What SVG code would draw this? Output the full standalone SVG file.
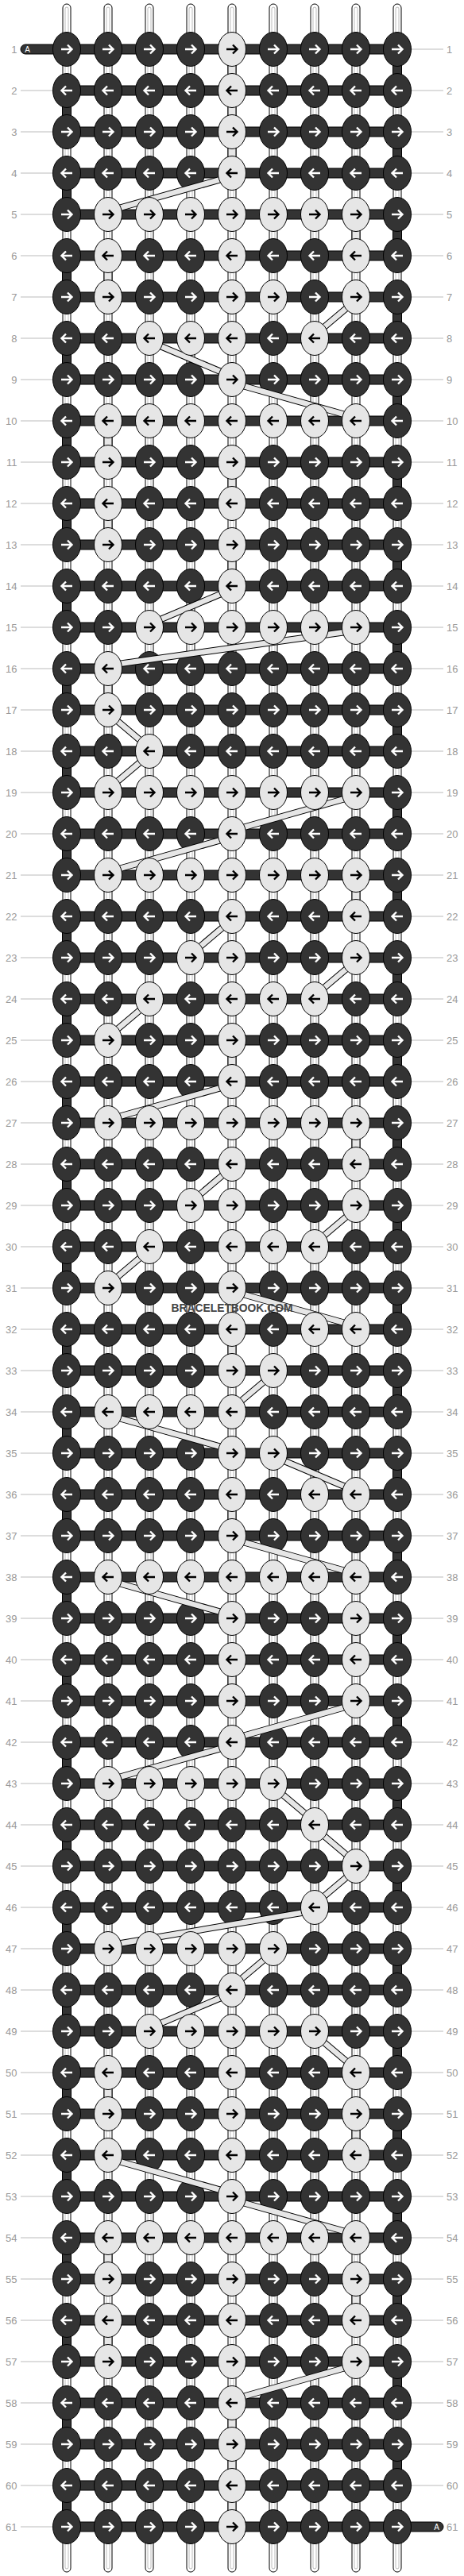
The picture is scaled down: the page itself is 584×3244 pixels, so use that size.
<svg xmlns="http://www.w3.org/2000/svg" width="584" height="3244" viewBox="0 0 584 3244">
<style>
.lbl{font-family:"Liberation Sans",Arial,sans-serif;font-size:13px;fill:#999}
.le{text-anchor:end}
.ln{stroke:#bbb;stroke-width:1;fill:none}
.tube{fill:#fff;stroke:#000;stroke-width:1}
.tin{fill:none;stroke:#aaa;stroke-width:0.8}
.d{fill:#333;stroke:#000;stroke-width:1}
.l{fill:#e6e6e6;stroke:#000;stroke-width:1}
.bo{stroke:#000;stroke-width:8.5;fill:none}
.bi{stroke:#e6e6e6;stroke-width:6.5;fill:none}
.aw{fill:none;stroke:#fff;stroke-width:2.4}
.ab{fill:none;stroke:#000;stroke-width:2.4}
.tag{font-family:"Liberation Sans",Arial,sans-serif;font-size:10px;fill:#fff;text-anchor:middle}
.wm{font-family:"Liberation Sans",Arial,sans-serif;font-weight:bold;font-size:15px;fill:#444;text-anchor:middle}
</style>
<defs>
<g id="dr"><ellipse rx="17.5" ry="21.5" class="d"/><path d="M-7,0H6M1,-5.5L6.5,0L1,5.5" class="aw"/></g>
<g id="dl"><ellipse rx="17.5" ry="21.5" class="d"/><path d="M7,0H-6M-1,-5.5L-6.5,0L-1,5.5" class="aw"/></g>
<g id="lr"><ellipse rx="17.5" ry="21.5" class="l"/><path d="M-7,0H6M1,-5.5L6.5,0L1,5.5" class="ab"/></g>
<g id="ll"><ellipse rx="17.5" ry="21.5" class="l"/><path d="M7,0H-6M-1,-5.5L-6.5,0L-1,5.5" class="ab"/></g>
<rect id="sd" x="-5.5" y="0" width="11" height="52" class="d"/>
<rect id="sl" x="-5" y="0" width="10" height="52" class="l"/>
</defs>
<rect width="584" height="3244" fill="#fff"/>
<g id="labels">
<path class="ln" d="M26,62h40M26,114h40M26,166h40M26,218h40M26,270h40M26,322h40M26,374h40M26,426h40M26,478h40M26,530h40M26,582h40M26,634h40M26,686h40M26,738h40M26,790h40M26,842h40M26,894h40M26,946h40M26,998h40M26,1050h40M26,1102h40M26,1154h40M26,1206h40M26,1258h40M26,1310h40M26,1362h40M26,1414h40M26,1466h40M26,1518h40M26,1570h40M26,1622h40M26,1674h40M26,1726h40M26,1778h40M26,1830h40M26,1882h40M26,1934h40M26,1986h40M26,2038h40M26,2090h40M26,2142h40M26,2194h40M26,2246h40M26,2298h40M26,2350h40M26,2402h40M26,2454h40M26,2506h40M26,2558h40M26,2610h40M26,2662h40M26,2714h40M26,2766h40M26,2818h40M26,2870h40M26,2922h40M26,2974h40M26,3026h40M26,3078h40M26,3130h40M26,3182h40"/>
<path class="ln" d="M518,62h40M518,114h40M518,166h40M518,218h40M518,270h40M518,322h40M518,374h40M518,426h40M518,478h40M518,530h40M518,582h40M518,634h40M518,686h40M518,738h40M518,790h40M518,842h40M518,894h40M518,946h40M518,998h40M518,1050h40M518,1102h40M518,1154h40M518,1206h40M518,1258h40M518,1310h40M518,1362h40M518,1414h40M518,1466h40M518,1518h40M518,1570h40M518,1622h40M518,1674h40M518,1726h40M518,1778h40M518,1830h40M518,1882h40M518,1934h40M518,1986h40M518,2038h40M518,2090h40M518,2142h40M518,2194h40M518,2246h40M518,2298h40M518,2350h40M518,2402h40M518,2454h40M518,2506h40M518,2558h40M518,2610h40M518,2662h40M518,2714h40M518,2766h40M518,2818h40M518,2870h40M518,2922h40M518,2974h40M518,3026h40M518,3078h40M518,3130h40"/>
<g class="lbl le">
<text x="21.5" y="67">1</text><text x="21.5" y="119">2</text><text x="21.5" y="171">3</text><text x="21.5" y="223">4</text><text x="21.5" y="275">5</text><text x="21.5" y="327">6</text><text x="21.5" y="379">7</text><text x="21.5" y="431">8</text><text x="21.5" y="483">9</text><text x="21.5" y="535">10</text><text x="21.5" y="587">11</text><text x="21.5" y="639">12</text><text x="21.5" y="691">13</text><text x="21.5" y="743">14</text><text x="21.5" y="795">15</text><text x="21.5" y="847">16</text><text x="21.5" y="899">17</text><text x="21.5" y="951">18</text><text x="21.5" y="1003">19</text><text x="21.5" y="1055">20</text><text x="21.5" y="1107">21</text><text x="21.5" y="1159">22</text><text x="21.5" y="1211">23</text><text x="21.5" y="1263">24</text><text x="21.5" y="1315">25</text><text x="21.5" y="1367">26</text><text x="21.5" y="1419">27</text><text x="21.5" y="1471">28</text><text x="21.5" y="1523">29</text><text x="21.5" y="1575">30</text><text x="21.5" y="1627">31</text><text x="21.5" y="1679">32</text><text x="21.5" y="1731">33</text><text x="21.5" y="1783">34</text><text x="21.5" y="1835">35</text><text x="21.5" y="1887">36</text><text x="21.5" y="1939">37</text><text x="21.5" y="1991">38</text><text x="21.5" y="2043">39</text><text x="21.5" y="2095">40</text><text x="21.5" y="2147">41</text><text x="21.5" y="2199">42</text><text x="21.5" y="2251">43</text><text x="21.5" y="2303">44</text><text x="21.5" y="2355">45</text><text x="21.5" y="2407">46</text><text x="21.5" y="2459">47</text><text x="21.5" y="2511">48</text><text x="21.5" y="2563">49</text><text x="21.5" y="2615">50</text><text x="21.5" y="2667">51</text><text x="21.5" y="2719">52</text><text x="21.5" y="2771">53</text><text x="21.5" y="2823">54</text><text x="21.5" y="2875">55</text><text x="21.5" y="2927">56</text><text x="21.5" y="2979">57</text><text x="21.5" y="3031">58</text><text x="21.5" y="3083">59</text><text x="21.5" y="3135">60</text><text x="21.5" y="3187">61</text>
</g>
<g class="lbl">
<text x="562" y="67">1</text><text x="562" y="119">2</text><text x="562" y="171">3</text><text x="562" y="223">4</text><text x="562" y="275">5</text><text x="562" y="327">6</text><text x="562" y="379">7</text><text x="562" y="431">8</text><text x="562" y="483">9</text><text x="562" y="535">10</text><text x="562" y="587">11</text><text x="562" y="639">12</text><text x="562" y="691">13</text><text x="562" y="743">14</text><text x="562" y="795">15</text><text x="562" y="847">16</text><text x="562" y="899">17</text><text x="562" y="951">18</text><text x="562" y="1003">19</text><text x="562" y="1055">20</text><text x="562" y="1107">21</text><text x="562" y="1159">22</text><text x="562" y="1211">23</text><text x="562" y="1263">24</text><text x="562" y="1315">25</text><text x="562" y="1367">26</text><text x="562" y="1419">27</text><text x="562" y="1471">28</text><text x="562" y="1523">29</text><text x="562" y="1575">30</text><text x="562" y="1627">31</text><text x="562" y="1679">32</text><text x="562" y="1731">33</text><text x="562" y="1783">34</text><text x="562" y="1835">35</text><text x="562" y="1887">36</text><text x="562" y="1939">37</text><text x="562" y="1991">38</text><text x="562" y="2043">39</text><text x="562" y="2095">40</text><text x="562" y="2147">41</text><text x="562" y="2199">42</text><text x="562" y="2251">43</text><text x="562" y="2303">44</text><text x="562" y="2355">45</text><text x="562" y="2407">46</text><text x="562" y="2459">47</text><text x="562" y="2511">48</text><text x="562" y="2563">49</text><text x="562" y="2615">50</text><text x="562" y="2667">51</text><text x="562" y="2719">52</text><text x="562" y="2771">53</text><text x="562" y="2823">54</text><text x="562" y="2875">55</text><text x="562" y="2927">56</text><text x="562" y="2979">57</text><text x="562" y="3031">58</text><text x="562" y="3083">59</text><text x="562" y="3135">60</text><text x="562" y="3187">61</text>
</g>
</g>
<g id="strings">
<rect x="79" y="5" width="10" height="3234" rx="5" class="tube"/><rect x="82" y="9" width="4" height="3226" rx="2" class="tin"/>
<rect x="131" y="5" width="10" height="3234" rx="5" class="tube"/><rect x="134" y="9" width="4" height="3226" rx="2" class="tin"/>
<rect x="183" y="5" width="10" height="3234" rx="5" class="tube"/><rect x="186" y="9" width="4" height="3226" rx="2" class="tin"/>
<rect x="235" y="5" width="10" height="3234" rx="5" class="tube"/><rect x="238" y="9" width="4" height="3226" rx="2" class="tin"/>
<rect x="287" y="5" width="10" height="3234" rx="5" class="tube"/><rect x="290" y="9" width="4" height="3226" rx="2" class="tin"/>
<rect x="339" y="5" width="10" height="3234" rx="5" class="tube"/><rect x="342" y="9" width="4" height="3226" rx="2" class="tin"/>
<rect x="391" y="5" width="10" height="3234" rx="5" class="tube"/><rect x="394" y="9" width="4" height="3226" rx="2" class="tin"/>
<rect x="443" y="5" width="10" height="3234" rx="5" class="tube"/><rect x="446" y="9" width="4" height="3226" rx="2" class="tin"/>
<rect x="495" y="5" width="10" height="3234" rx="5" class="tube"/><rect x="498" y="9" width="4" height="3226" rx="2" class="tin"/>
</g>
<g id="connectors">
<use href="#sd" x="500" y="62"/><use href="#sd" x="500" y="166"/><use href="#sd" x="500" y="270"/><use href="#sd" x="500" y="374"/><use href="#sd" x="500" y="478"/><use href="#sd" x="500" y="582"/><use href="#sd" x="500" y="686"/><use href="#sd" x="500" y="790"/><use href="#sd" x="500" y="894"/><use href="#sd" x="500" y="998"/><use href="#sd" x="500" y="1102"/><use href="#sd" x="500" y="1206"/><use href="#sd" x="500" y="1310"/><use href="#sd" x="500" y="1414"/><use href="#sd" x="500" y="1518"/><use href="#sd" x="500" y="1622"/><use href="#sd" x="500" y="1726"/><use href="#sd" x="500" y="1830"/><use href="#sd" x="500" y="1934"/><use href="#sd" x="500" y="2038"/><use href="#sd" x="500" y="2142"/><use href="#sd" x="500" y="2246"/><use href="#sd" x="500" y="2350"/><use href="#sd" x="500" y="2454"/><use href="#sd" x="500" y="2558"/><use href="#sd" x="500" y="2662"/><use href="#sd" x="500" y="2766"/><use href="#sd" x="500" y="2870"/><use href="#sd" x="500" y="2974"/><use href="#sd" x="500" y="3078"/>
<use href="#sd" x="84" y="114"/><use href="#sd" x="84" y="218"/><use href="#sd" x="84" y="322"/><use href="#sd" x="84" y="426"/><use href="#sd" x="84" y="530"/><use href="#sd" x="84" y="634"/><use href="#sd" x="84" y="738"/><use href="#sd" x="84" y="842"/><use href="#sd" x="84" y="946"/><use href="#sd" x="84" y="1050"/><use href="#sd" x="84" y="1154"/><use href="#sd" x="84" y="1258"/><use href="#sd" x="84" y="1362"/><use href="#sd" x="84" y="1466"/><use href="#sd" x="84" y="1570"/><use href="#sd" x="84" y="1674"/><use href="#sd" x="84" y="1778"/><use href="#sd" x="84" y="1882"/><use href="#sd" x="84" y="1986"/><use href="#sd" x="84" y="2090"/><use href="#sd" x="84" y="2194"/><use href="#sd" x="84" y="2298"/><use href="#sd" x="84" y="2402"/><use href="#sd" x="84" y="2506"/><use href="#sd" x="84" y="2610"/><use href="#sd" x="84" y="2714"/><use href="#sd" x="84" y="2818"/><use href="#sd" x="84" y="2922"/><use href="#sd" x="84" y="3026"/><use href="#sd" x="84" y="3130"/>
<use href="#sl" x="292" y="62"/><use href="#sl" x="292" y="114"/><use href="#sl" x="292" y="166"/><use href="#sl" x="448" y="270"/><use href="#sl" x="136" y="322"/><use href="#sl" x="136" y="530"/><use href="#sl" x="292" y="582"/><use href="#sl" x="136" y="634"/><use href="#sl" x="292" y="686"/><use href="#sl" x="136" y="842"/><use href="#sl" x="448" y="1102"/><use href="#sl" x="292" y="1310"/><use href="#sl" x="448" y="1414"/><use href="#sl" x="292" y="1674"/><use href="#sl" x="292" y="1882"/><use href="#sl" x="448" y="2038"/><use href="#sl" x="292" y="2090"/><use href="#sl" x="136" y="2610"/><use href="#sl" x="448" y="2662"/><use href="#sl" x="136" y="2818"/><use href="#sl" x="448" y="2870"/><use href="#sl" x="136" y="2922"/><use href="#sl" x="292" y="3026"/><use href="#sl" x="292" y="3078"/><use href="#sl" x="292" y="3130"/>
</g>
<g id="rows" class="d">
<rect x="26" y="56" width="70" height="12" rx="6"/><rect x="488" y="3176" width="70" height="12" rx="6"/>
<rect x="84" y="56" width="416" height="12"/><rect x="84" y="108" width="416" height="12"/><rect x="84" y="160" width="416" height="12"/><rect x="84" y="212" width="416" height="12"/><rect x="84" y="264" width="416" height="12"/><rect x="84" y="316" width="416" height="12"/><rect x="84" y="368" width="416" height="12"/><rect x="84" y="420" width="416" height="12"/><rect x="84" y="472" width="416" height="12"/><rect x="84" y="524" width="416" height="12"/><rect x="84" y="576" width="416" height="12"/><rect x="84" y="628" width="416" height="12"/><rect x="84" y="680" width="416" height="12"/><rect x="84" y="732" width="416" height="12"/><rect x="84" y="784" width="416" height="12"/><rect x="84" y="836" width="416" height="12"/><rect x="84" y="888" width="416" height="12"/><rect x="84" y="940" width="416" height="12"/><rect x="84" y="992" width="416" height="12"/><rect x="84" y="1044" width="416" height="12"/><rect x="84" y="1096" width="416" height="12"/><rect x="84" y="1148" width="416" height="12"/><rect x="84" y="1200" width="416" height="12"/><rect x="84" y="1252" width="416" height="12"/><rect x="84" y="1304" width="416" height="12"/><rect x="84" y="1356" width="416" height="12"/><rect x="84" y="1408" width="416" height="12"/><rect x="84" y="1460" width="416" height="12"/><rect x="84" y="1512" width="416" height="12"/><rect x="84" y="1564" width="416" height="12"/><rect x="84" y="1616" width="416" height="12"/><rect x="84" y="1668" width="416" height="12"/><rect x="84" y="1720" width="416" height="12"/><rect x="84" y="1772" width="416" height="12"/><rect x="84" y="1824" width="416" height="12"/><rect x="84" y="1876" width="416" height="12"/><rect x="84" y="1928" width="416" height="12"/><rect x="84" y="1980" width="416" height="12"/><rect x="84" y="2032" width="416" height="12"/><rect x="84" y="2084" width="416" height="12"/><rect x="84" y="2136" width="416" height="12"/><rect x="84" y="2188" width="416" height="12"/><rect x="84" y="2240" width="416" height="12"/><rect x="84" y="2292" width="416" height="12"/><rect x="84" y="2344" width="416" height="12"/><rect x="84" y="2396" width="416" height="12"/><rect x="84" y="2448" width="416" height="12"/><rect x="84" y="2500" width="416" height="12"/><rect x="84" y="2552" width="416" height="12"/><rect x="84" y="2604" width="416" height="12"/><rect x="84" y="2656" width="416" height="12"/><rect x="84" y="2708" width="416" height="12"/><rect x="84" y="2760" width="416" height="12"/><rect x="84" y="2812" width="416" height="12"/><rect x="84" y="2864" width="416" height="12"/><rect x="84" y="2916" width="416" height="12"/><rect x="84" y="2968" width="416" height="12"/><rect x="84" y="3020" width="416" height="12"/><rect x="84" y="3072" width="416" height="12"/><rect x="84" y="3124" width="416" height="12"/><rect x="84" y="3176" width="416" height="12"/>
</g>
<text class="tag" x="34.5" y="65.5">A</text><text class="tag" x="549.5" y="3185.5">A</text>
<g id="knots-dark">
<g transform="translate(0,62)"><g id="k1-1"><use href="#dr" x="84"/></g><g id="k1-2"><use href="#dr" x="136"/></g><g id="k1-3"><use href="#dr" x="188"/></g><g id="k1-4"><use href="#dr" x="240"/></g><g id="k1-6"><use href="#dr" x="344"/></g><g id="k1-7"><use href="#dr" x="396"/></g><g id="k1-8"><use href="#dr" x="448"/></g><g id="k1-9"><use href="#dr" x="500"/></g></g>
<g transform="translate(0,114)"><g id="k2-1"><use href="#dl" x="84"/></g><g id="k2-2"><use href="#dl" x="136"/></g><g id="k2-3"><use href="#dl" x="188"/></g><g id="k2-4"><use href="#dl" x="240"/></g><g id="k2-6"><use href="#dl" x="344"/></g><g id="k2-7"><use href="#dl" x="396"/></g><g id="k2-8"><use href="#dl" x="448"/></g><g id="k2-9"><use href="#dl" x="500"/></g></g>
<g transform="translate(0,166)"><g id="k3-1"><use href="#dr" x="84"/></g><g id="k3-2"><use href="#dr" x="136"/></g><g id="k3-3"><use href="#dr" x="188"/></g><g id="k3-4"><use href="#dr" x="240"/></g><g id="k3-6"><use href="#dr" x="344"/></g><g id="k3-7"><use href="#dr" x="396"/></g><g id="k3-8"><use href="#dr" x="448"/></g><g id="k3-9"><use href="#dr" x="500"/></g></g>
<g transform="translate(0,218)"><g id="k4-1"><use href="#dl" x="84"/></g><g id="k4-2"><use href="#dl" x="136"/></g><g id="k4-3"><use href="#dl" x="188"/></g><g id="k4-4"><use href="#dl" x="240"/></g><g id="k4-6"><use href="#dl" x="344"/></g><g id="k4-7"><use href="#dl" x="396"/></g><g id="k4-8"><use href="#dl" x="448"/></g><g id="k4-9"><use href="#dl" x="500"/></g></g>
<g transform="translate(0,270)"><g id="k5-1"><use href="#dr" x="84"/></g><g id="k5-9"><use href="#dr" x="500"/></g></g>
<g transform="translate(0,322)"><g id="k6-1"><use href="#dl" x="84"/></g><g id="k6-3"><use href="#dl" x="188"/></g><g id="k6-4"><use href="#dl" x="240"/></g><g id="k6-6"><use href="#dl" x="344"/></g><g id="k6-7"><use href="#dl" x="396"/></g><g id="k6-9"><use href="#dl" x="500"/></g></g>
<g transform="translate(0,374)"><g id="k7-1"><use href="#dr" x="84"/></g><g id="k7-3"><use href="#dr" x="188"/></g><g id="k7-4"><use href="#dr" x="240"/></g><g id="k7-7"><use href="#dr" x="396"/></g><g id="k7-9"><use href="#dr" x="500"/></g></g>
<g transform="translate(0,426)"><g id="k8-1"><use href="#dl" x="84"/></g><g id="k8-2"><use href="#dl" x="136"/></g><g id="k8-6"><use href="#dl" x="344"/></g><g id="k8-8"><use href="#dl" x="448"/></g><g id="k8-9"><use href="#dl" x="500"/></g></g>
<g transform="translate(0,478)"><g id="k9-1"><use href="#dr" x="84"/></g><g id="k9-2"><use href="#dr" x="136"/></g><g id="k9-3"><use href="#dr" x="188"/></g><g id="k9-4"><use href="#dr" x="240"/></g><g id="k9-6"><use href="#dr" x="344"/></g><g id="k9-7"><use href="#dr" x="396"/></g><g id="k9-8"><use href="#dr" x="448"/></g><g id="k9-9"><use href="#dr" x="500"/></g></g>
<g transform="translate(0,530)"><g id="k10-1"><use href="#dl" x="84"/></g><g id="k10-9"><use href="#dl" x="500"/></g></g>
<g transform="translate(0,582)"><g id="k11-1"><use href="#dr" x="84"/></g><g id="k11-3"><use href="#dr" x="188"/></g><g id="k11-4"><use href="#dr" x="240"/></g><g id="k11-6"><use href="#dr" x="344"/></g><g id="k11-7"><use href="#dr" x="396"/></g><g id="k11-8"><use href="#dr" x="448"/></g><g id="k11-9"><use href="#dr" x="500"/></g></g>
<g transform="translate(0,634)"><g id="k12-1"><use href="#dl" x="84"/></g><g id="k12-3"><use href="#dl" x="188"/></g><g id="k12-4"><use href="#dl" x="240"/></g><g id="k12-6"><use href="#dl" x="344"/></g><g id="k12-7"><use href="#dl" x="396"/></g><g id="k12-8"><use href="#dl" x="448"/></g><g id="k12-9"><use href="#dl" x="500"/></g></g>
<g transform="translate(0,686)"><g id="k13-1"><use href="#dr" x="84"/></g><g id="k13-3"><use href="#dr" x="188"/></g><g id="k13-4"><use href="#dr" x="240"/></g><g id="k13-6"><use href="#dr" x="344"/></g><g id="k13-7"><use href="#dr" x="396"/></g><g id="k13-8"><use href="#dr" x="448"/></g><g id="k13-9"><use href="#dr" x="500"/></g></g>
<g transform="translate(0,738)"><g id="k14-1"><use href="#dl" x="84"/></g><g id="k14-2"><use href="#dl" x="136"/></g><g id="k14-3"><use href="#dl" x="188"/></g><g id="k14-4"><use href="#dl" x="240"/></g><g id="k14-6"><use href="#dl" x="344"/></g><g id="k14-7"><use href="#dl" x="396"/></g><g id="k14-8"><use href="#dl" x="448"/></g><g id="k14-9"><use href="#dl" x="500"/></g></g>
<g transform="translate(0,790)"><g id="k15-1"><use href="#dr" x="84"/></g><g id="k15-2"><use href="#dr" x="136"/></g><g id="k15-9"><use href="#dr" x="500"/></g></g>
<g transform="translate(0,842)"><g id="k16-1"><use href="#dl" x="84"/></g><g id="k16-3"><use href="#dl" x="188"/></g><g id="k16-4"><use href="#dl" x="240"/></g><g id="k16-5"><use href="#dl" x="292"/></g><g id="k16-6"><use href="#dl" x="344"/></g><g id="k16-7"><use href="#dl" x="396"/></g><g id="k16-8"><use href="#dl" x="448"/></g><g id="k16-9"><use href="#dl" x="500"/></g></g>
<g transform="translate(0,894)"><g id="k17-1"><use href="#dr" x="84"/></g><g id="k17-3"><use href="#dr" x="188"/></g><g id="k17-4"><use href="#dr" x="240"/></g><g id="k17-5"><use href="#dr" x="292"/></g><g id="k17-6"><use href="#dr" x="344"/></g><g id="k17-7"><use href="#dr" x="396"/></g><g id="k17-8"><use href="#dr" x="448"/></g><g id="k17-9"><use href="#dr" x="500"/></g></g>
<g transform="translate(0,946)"><g id="k18-1"><use href="#dl" x="84"/></g><g id="k18-2"><use href="#dl" x="136"/></g><g id="k18-4"><use href="#dl" x="240"/></g><g id="k18-5"><use href="#dl" x="292"/></g><g id="k18-6"><use href="#dl" x="344"/></g><g id="k18-7"><use href="#dl" x="396"/></g><g id="k18-8"><use href="#dl" x="448"/></g><g id="k18-9"><use href="#dl" x="500"/></g></g>
<g transform="translate(0,998)"><g id="k19-1"><use href="#dr" x="84"/></g><g id="k19-9"><use href="#dr" x="500"/></g></g>
<g transform="translate(0,1050)"><g id="k20-1"><use href="#dl" x="84"/></g><g id="k20-2"><use href="#dl" x="136"/></g><g id="k20-3"><use href="#dl" x="188"/></g><g id="k20-4"><use href="#dl" x="240"/></g><g id="k20-6"><use href="#dl" x="344"/></g><g id="k20-7"><use href="#dl" x="396"/></g><g id="k20-8"><use href="#dl" x="448"/></g><g id="k20-9"><use href="#dl" x="500"/></g></g>
<g transform="translate(0,1102)"><g id="k21-1"><use href="#dr" x="84"/></g><g id="k21-9"><use href="#dr" x="500"/></g></g>
<g transform="translate(0,1154)"><g id="k22-1"><use href="#dl" x="84"/></g><g id="k22-2"><use href="#dl" x="136"/></g><g id="k22-3"><use href="#dl" x="188"/></g><g id="k22-4"><use href="#dl" x="240"/></g><g id="k22-6"><use href="#dl" x="344"/></g><g id="k22-7"><use href="#dl" x="396"/></g><g id="k22-9"><use href="#dl" x="500"/></g></g>
<g transform="translate(0,1206)"><g id="k23-1"><use href="#dr" x="84"/></g><g id="k23-2"><use href="#dr" x="136"/></g><g id="k23-3"><use href="#dr" x="188"/></g><g id="k23-6"><use href="#dr" x="344"/></g><g id="k23-7"><use href="#dr" x="396"/></g><g id="k23-9"><use href="#dr" x="500"/></g></g>
<g transform="translate(0,1258)"><g id="k24-1"><use href="#dl" x="84"/></g><g id="k24-2"><use href="#dl" x="136"/></g><g id="k24-4"><use href="#dl" x="240"/></g><g id="k24-8"><use href="#dl" x="448"/></g><g id="k24-9"><use href="#dl" x="500"/></g></g>
<g transform="translate(0,1310)"><g id="k25-1"><use href="#dr" x="84"/></g><g id="k25-3"><use href="#dr" x="188"/></g><g id="k25-4"><use href="#dr" x="240"/></g><g id="k25-6"><use href="#dr" x="344"/></g><g id="k25-7"><use href="#dr" x="396"/></g><g id="k25-8"><use href="#dr" x="448"/></g><g id="k25-9"><use href="#dr" x="500"/></g></g>
<g transform="translate(0,1362)"><g id="k26-1"><use href="#dl" x="84"/></g><g id="k26-2"><use href="#dl" x="136"/></g><g id="k26-3"><use href="#dl" x="188"/></g><g id="k26-4"><use href="#dl" x="240"/></g><g id="k26-6"><use href="#dl" x="344"/></g><g id="k26-7"><use href="#dl" x="396"/></g><g id="k26-8"><use href="#dl" x="448"/></g><g id="k26-9"><use href="#dl" x="500"/></g></g>
<g transform="translate(0,1414)"><g id="k27-1"><use href="#dr" x="84"/></g><g id="k27-9"><use href="#dr" x="500"/></g></g>
<g transform="translate(0,1466)"><g id="k28-1"><use href="#dl" x="84"/></g><g id="k28-2"><use href="#dl" x="136"/></g><g id="k28-3"><use href="#dl" x="188"/></g><g id="k28-4"><use href="#dl" x="240"/></g><g id="k28-6"><use href="#dl" x="344"/></g><g id="k28-7"><use href="#dl" x="396"/></g><g id="k28-9"><use href="#dl" x="500"/></g></g>
<g transform="translate(0,1518)"><g id="k29-1"><use href="#dr" x="84"/></g><g id="k29-2"><use href="#dr" x="136"/></g><g id="k29-3"><use href="#dr" x="188"/></g><g id="k29-6"><use href="#dr" x="344"/></g><g id="k29-7"><use href="#dr" x="396"/></g><g id="k29-9"><use href="#dr" x="500"/></g></g>
<g transform="translate(0,1570)"><g id="k30-1"><use href="#dl" x="84"/></g><g id="k30-2"><use href="#dl" x="136"/></g><g id="k30-4"><use href="#dl" x="240"/></g><g id="k30-8"><use href="#dl" x="448"/></g><g id="k30-9"><use href="#dl" x="500"/></g></g>
<g transform="translate(0,1622)"><g id="k31-1"><use href="#dr" x="84"/></g><g id="k31-3"><use href="#dr" x="188"/></g><g id="k31-4"><use href="#dr" x="240"/></g><g id="k31-6"><use href="#dr" x="344"/></g><g id="k31-7"><use href="#dr" x="396"/></g><g id="k31-8"><use href="#dr" x="448"/></g><g id="k31-9"><use href="#dr" x="500"/></g></g>
<g transform="translate(0,1674)"><g id="k32-1"><use href="#dl" x="84"/></g><g id="k32-2"><use href="#dl" x="136"/></g><g id="k32-3"><use href="#dl" x="188"/></g><g id="k32-4"><use href="#dl" x="240"/></g><g id="k32-6"><use href="#dl" x="344"/></g><g id="k32-9"><use href="#dl" x="500"/></g></g>
<g transform="translate(0,1726)"><g id="k33-1"><use href="#dr" x="84"/></g><g id="k33-2"><use href="#dr" x="136"/></g><g id="k33-3"><use href="#dr" x="188"/></g><g id="k33-4"><use href="#dr" x="240"/></g><g id="k33-7"><use href="#dr" x="396"/></g><g id="k33-8"><use href="#dr" x="448"/></g><g id="k33-9"><use href="#dr" x="500"/></g></g>
<g transform="translate(0,1778)"><g id="k34-1"><use href="#dl" x="84"/></g><g id="k34-6"><use href="#dl" x="344"/></g><g id="k34-7"><use href="#dl" x="396"/></g><g id="k34-8"><use href="#dl" x="448"/></g><g id="k34-9"><use href="#dl" x="500"/></g></g>
<g transform="translate(0,1830)"><g id="k35-1"><use href="#dr" x="84"/></g><g id="k35-2"><use href="#dr" x="136"/></g><g id="k35-3"><use href="#dr" x="188"/></g><g id="k35-4"><use href="#dr" x="240"/></g><g id="k35-7"><use href="#dr" x="396"/></g><g id="k35-8"><use href="#dr" x="448"/></g><g id="k35-9"><use href="#dr" x="500"/></g></g>
<g transform="translate(0,1882)"><g id="k36-1"><use href="#dl" x="84"/></g><g id="k36-2"><use href="#dl" x="136"/></g><g id="k36-3"><use href="#dl" x="188"/></g><g id="k36-4"><use href="#dl" x="240"/></g><g id="k36-6"><use href="#dl" x="344"/></g><g id="k36-9"><use href="#dl" x="500"/></g></g>
<g transform="translate(0,1934)"><g id="k37-1"><use href="#dr" x="84"/></g><g id="k37-2"><use href="#dr" x="136"/></g><g id="k37-3"><use href="#dr" x="188"/></g><g id="k37-4"><use href="#dr" x="240"/></g><g id="k37-6"><use href="#dr" x="344"/></g><g id="k37-7"><use href="#dr" x="396"/></g><g id="k37-8"><use href="#dr" x="448"/></g><g id="k37-9"><use href="#dr" x="500"/></g></g>
<g transform="translate(0,1986)"><g id="k38-1"><use href="#dl" x="84"/></g><g id="k38-9"><use href="#dl" x="500"/></g></g>
<g transform="translate(0,2038)"><g id="k39-1"><use href="#dr" x="84"/></g><g id="k39-2"><use href="#dr" x="136"/></g><g id="k39-3"><use href="#dr" x="188"/></g><g id="k39-4"><use href="#dr" x="240"/></g><g id="k39-6"><use href="#dr" x="344"/></g><g id="k39-7"><use href="#dr" x="396"/></g><g id="k39-9"><use href="#dr" x="500"/></g></g>
<g transform="translate(0,2090)"><g id="k40-1"><use href="#dl" x="84"/></g><g id="k40-2"><use href="#dl" x="136"/></g><g id="k40-3"><use href="#dl" x="188"/></g><g id="k40-4"><use href="#dl" x="240"/></g><g id="k40-6"><use href="#dl" x="344"/></g><g id="k40-7"><use href="#dl" x="396"/></g><g id="k40-9"><use href="#dl" x="500"/></g></g>
<g transform="translate(0,2142)"><g id="k41-1"><use href="#dr" x="84"/></g><g id="k41-2"><use href="#dr" x="136"/></g><g id="k41-3"><use href="#dr" x="188"/></g><g id="k41-4"><use href="#dr" x="240"/></g><g id="k41-6"><use href="#dr" x="344"/></g><g id="k41-7"><use href="#dr" x="396"/></g><g id="k41-9"><use href="#dr" x="500"/></g></g>
<g transform="translate(0,2194)"><g id="k42-1"><use href="#dl" x="84"/></g><g id="k42-2"><use href="#dl" x="136"/></g><g id="k42-3"><use href="#dl" x="188"/></g><g id="k42-4"><use href="#dl" x="240"/></g><g id="k42-6"><use href="#dl" x="344"/></g><g id="k42-7"><use href="#dl" x="396"/></g><g id="k42-8"><use href="#dl" x="448"/></g><g id="k42-9"><use href="#dl" x="500"/></g></g>
<g transform="translate(0,2246)"><g id="k43-1"><use href="#dr" x="84"/></g><g id="k43-7"><use href="#dr" x="396"/></g><g id="k43-8"><use href="#dr" x="448"/></g><g id="k43-9"><use href="#dr" x="500"/></g></g>
<g transform="translate(0,2298)"><g id="k44-1"><use href="#dl" x="84"/></g><g id="k44-2"><use href="#dl" x="136"/></g><g id="k44-3"><use href="#dl" x="188"/></g><g id="k44-4"><use href="#dl" x="240"/></g><g id="k44-5"><use href="#dl" x="292"/></g><g id="k44-6"><use href="#dl" x="344"/></g><g id="k44-8"><use href="#dl" x="448"/></g><g id="k44-9"><use href="#dl" x="500"/></g></g>
<g transform="translate(0,2350)"><g id="k45-1"><use href="#dr" x="84"/></g><g id="k45-2"><use href="#dr" x="136"/></g><g id="k45-3"><use href="#dr" x="188"/></g><g id="k45-4"><use href="#dr" x="240"/></g><g id="k45-5"><use href="#dr" x="292"/></g><g id="k45-6"><use href="#dr" x="344"/></g><g id="k45-7"><use href="#dr" x="396"/></g><g id="k45-9"><use href="#dr" x="500"/></g></g>
<g transform="translate(0,2402)"><g id="k46-1"><use href="#dl" x="84"/></g><g id="k46-2"><use href="#dl" x="136"/></g><g id="k46-3"><use href="#dl" x="188"/></g><g id="k46-4"><use href="#dl" x="240"/></g><g id="k46-5"><use href="#dl" x="292"/></g><g id="k46-6"><use href="#dl" x="344"/></g><g id="k46-8"><use href="#dl" x="448"/></g><g id="k46-9"><use href="#dl" x="500"/></g></g>
<g transform="translate(0,2454)"><g id="k47-1"><use href="#dr" x="84"/></g><g id="k47-7"><use href="#dr" x="396"/></g><g id="k47-8"><use href="#dr" x="448"/></g><g id="k47-9"><use href="#dr" x="500"/></g></g>
<g transform="translate(0,2506)"><g id="k48-1"><use href="#dl" x="84"/></g><g id="k48-2"><use href="#dl" x="136"/></g><g id="k48-3"><use href="#dl" x="188"/></g><g id="k48-4"><use href="#dl" x="240"/></g><g id="k48-6"><use href="#dl" x="344"/></g><g id="k48-7"><use href="#dl" x="396"/></g><g id="k48-8"><use href="#dl" x="448"/></g><g id="k48-9"><use href="#dl" x="500"/></g></g>
<g transform="translate(0,2558)"><g id="k49-1"><use href="#dr" x="84"/></g><g id="k49-2"><use href="#dr" x="136"/></g><g id="k49-8"><use href="#dr" x="448"/></g><g id="k49-9"><use href="#dr" x="500"/></g></g>
<g transform="translate(0,2610)"><g id="k50-1"><use href="#dl" x="84"/></g><g id="k50-3"><use href="#dl" x="188"/></g><g id="k50-4"><use href="#dl" x="240"/></g><g id="k50-6"><use href="#dl" x="344"/></g><g id="k50-7"><use href="#dl" x="396"/></g><g id="k50-9"><use href="#dl" x="500"/></g></g>
<g transform="translate(0,2662)"><g id="k51-1"><use href="#dr" x="84"/></g><g id="k51-3"><use href="#dr" x="188"/></g><g id="k51-4"><use href="#dr" x="240"/></g><g id="k51-6"><use href="#dr" x="344"/></g><g id="k51-7"><use href="#dr" x="396"/></g><g id="k51-9"><use href="#dr" x="500"/></g></g>
<g transform="translate(0,2714)"><g id="k52-1"><use href="#dl" x="84"/></g><g id="k52-3"><use href="#dl" x="188"/></g><g id="k52-4"><use href="#dl" x="240"/></g><g id="k52-6"><use href="#dl" x="344"/></g><g id="k52-7"><use href="#dl" x="396"/></g><g id="k52-9"><use href="#dl" x="500"/></g></g>
<g transform="translate(0,2766)"><g id="k53-1"><use href="#dr" x="84"/></g><g id="k53-2"><use href="#dr" x="136"/></g><g id="k53-3"><use href="#dr" x="188"/></g><g id="k53-4"><use href="#dr" x="240"/></g><g id="k53-6"><use href="#dr" x="344"/></g><g id="k53-7"><use href="#dr" x="396"/></g><g id="k53-8"><use href="#dr" x="448"/></g><g id="k53-9"><use href="#dr" x="500"/></g></g>
<g transform="translate(0,2818)"><g id="k54-1"><use href="#dl" x="84"/></g><g id="k54-9"><use href="#dl" x="500"/></g></g>
<g transform="translate(0,2870)"><g id="k55-1"><use href="#dr" x="84"/></g><g id="k55-3"><use href="#dr" x="188"/></g><g id="k55-4"><use href="#dr" x="240"/></g><g id="k55-6"><use href="#dr" x="344"/></g><g id="k55-7"><use href="#dr" x="396"/></g><g id="k55-9"><use href="#dr" x="500"/></g></g>
<g transform="translate(0,2922)"><g id="k56-1"><use href="#dl" x="84"/></g><g id="k56-3"><use href="#dl" x="188"/></g><g id="k56-4"><use href="#dl" x="240"/></g><g id="k56-6"><use href="#dl" x="344"/></g><g id="k56-7"><use href="#dl" x="396"/></g><g id="k56-9"><use href="#dl" x="500"/></g></g>
<g transform="translate(0,2974)"><g id="k57-1"><use href="#dr" x="84"/></g><g id="k57-3"><use href="#dr" x="188"/></g><g id="k57-4"><use href="#dr" x="240"/></g><g id="k57-6"><use href="#dr" x="344"/></g><g id="k57-7"><use href="#dr" x="396"/></g><g id="k57-9"><use href="#dr" x="500"/></g></g>
<g transform="translate(0,3026)"><g id="k58-1"><use href="#dl" x="84"/></g><g id="k58-2"><use href="#dl" x="136"/></g><g id="k58-3"><use href="#dl" x="188"/></g><g id="k58-4"><use href="#dl" x="240"/></g><g id="k58-6"><use href="#dl" x="344"/></g><g id="k58-7"><use href="#dl" x="396"/></g><g id="k58-8"><use href="#dl" x="448"/></g><g id="k58-9"><use href="#dl" x="500"/></g></g>
<g transform="translate(0,3078)"><g id="k59-1"><use href="#dr" x="84"/></g><g id="k59-2"><use href="#dr" x="136"/></g><g id="k59-3"><use href="#dr" x="188"/></g><g id="k59-4"><use href="#dr" x="240"/></g><g id="k59-6"><use href="#dr" x="344"/></g><g id="k59-7"><use href="#dr" x="396"/></g><g id="k59-8"><use href="#dr" x="448"/></g><g id="k59-9"><use href="#dr" x="500"/></g></g>
<g transform="translate(0,3130)"><g id="k60-1"><use href="#dl" x="84"/></g><g id="k60-2"><use href="#dl" x="136"/></g><g id="k60-3"><use href="#dl" x="188"/></g><g id="k60-4"><use href="#dl" x="240"/></g><g id="k60-6"><use href="#dl" x="344"/></g><g id="k60-7"><use href="#dl" x="396"/></g><g id="k60-8"><use href="#dl" x="448"/></g><g id="k60-9"><use href="#dl" x="500"/></g></g>
<g transform="translate(0,3182)"><g id="k61-1"><use href="#dr" x="84"/></g><g id="k61-2"><use href="#dr" x="136"/></g><g id="k61-3"><use href="#dr" x="188"/></g><g id="k61-4"><use href="#dr" x="240"/></g><g id="k61-6"><use href="#dr" x="344"/></g><g id="k61-7"><use href="#dr" x="396"/></g><g id="k61-8"><use href="#dr" x="448"/></g><g id="k61-9"><use href="#dr" x="500"/></g></g>
</g>
<g id="connectors-diagonal">
<g class="bo"><path d="M292,222L136,266M448,378L396,422M188,430L292,474M292,482L448,526M292,742L188,786M448,794L136,838M136,898L188,942M188,950L136,994M448,1002L292,1046M292,1054L136,1098M292,1158L240,1202M448,1210L396,1254M188,1262L136,1306M292,1366L136,1410M292,1470L240,1514M448,1522L396,1566M188,1574L136,1618M292,1626L448,1670M344,1730L292,1774M136,1782L292,1826M344,1834L448,1878M292,1938L448,1982M136,1990L292,2034M448,2146L292,2190M292,2198L136,2242M344,2250L396,2294M396,2302L448,2346M448,2354L396,2398M396,2406L136,2450M344,2458L292,2502M292,2510L188,2554M396,2562L448,2606M136,2718L292,2762M292,2770L448,2814M448,2978L292,3022"/></g>
<g class="bi"><path d="M292,222L136,266M448,378L396,422M188,430L292,474M292,482L448,526M292,742L188,786M448,794L136,838M136,898L188,942M188,950L136,994M448,1002L292,1046M292,1054L136,1098M292,1158L240,1202M448,1210L396,1254M188,1262L136,1306M292,1366L136,1410M292,1470L240,1514M448,1522L396,1566M188,1574L136,1618M292,1626L448,1670M344,1730L292,1774M136,1782L292,1826M344,1834L448,1878M292,1938L448,1982M136,1990L292,2034M448,2146L292,2190M292,2198L136,2242M344,2250L396,2294M396,2302L448,2346M448,2354L396,2398M396,2406L136,2450M344,2458L292,2502M292,2510L188,2554M396,2562L448,2606M136,2718L292,2762M292,2770L448,2814M448,2978L292,3022"/></g>
</g>
<g id="knots-light">
<g transform="translate(0,62)"><g id="k1-5"><use href="#lr" x="292"/></g></g>
<g transform="translate(0,114)"><g id="k2-5"><use href="#ll" x="292"/></g></g>
<g transform="translate(0,166)"><g id="k3-5"><use href="#lr" x="292"/></g></g>
<g transform="translate(0,218)"><g id="k4-5"><use href="#ll" x="292"/></g></g>
<g transform="translate(0,270)"><g id="k5-2"><use href="#lr" x="136"/></g><g id="k5-3"><use href="#lr" x="188"/></g><g id="k5-4"><use href="#lr" x="240"/></g><g id="k5-5"><use href="#lr" x="292"/></g><g id="k5-6"><use href="#lr" x="344"/></g><g id="k5-7"><use href="#lr" x="396"/></g><g id="k5-8"><use href="#lr" x="448"/></g></g>
<g transform="translate(0,322)"><g id="k6-2"><use href="#ll" x="136"/></g><g id="k6-5"><use href="#ll" x="292"/></g><g id="k6-8"><use href="#ll" x="448"/></g></g>
<g transform="translate(0,374)"><g id="k7-2"><use href="#lr" x="136"/></g><g id="k7-5"><use href="#lr" x="292"/></g><g id="k7-6"><use href="#lr" x="344"/></g><g id="k7-8"><use href="#lr" x="448"/></g></g>
<g transform="translate(0,426)"><g id="k8-3"><use href="#ll" x="188"/></g><g id="k8-4"><use href="#ll" x="240"/></g><g id="k8-5"><use href="#ll" x="292"/></g><g id="k8-7"><use href="#ll" x="396"/></g></g>
<g transform="translate(0,478)"><g id="k9-5"><use href="#lr" x="292"/></g></g>
<g transform="translate(0,530)"><g id="k10-2"><use href="#ll" x="136"/></g><g id="k10-3"><use href="#ll" x="188"/></g><g id="k10-4"><use href="#ll" x="240"/></g><g id="k10-5"><use href="#ll" x="292"/></g><g id="k10-6"><use href="#ll" x="344"/></g><g id="k10-7"><use href="#ll" x="396"/></g><g id="k10-8"><use href="#ll" x="448"/></g></g>
<g transform="translate(0,582)"><g id="k11-2"><use href="#lr" x="136"/></g><g id="k11-5"><use href="#lr" x="292"/></g></g>
<g transform="translate(0,634)"><g id="k12-2"><use href="#ll" x="136"/></g><g id="k12-5"><use href="#ll" x="292"/></g></g>
<g transform="translate(0,686)"><g id="k13-2"><use href="#lr" x="136"/></g><g id="k13-5"><use href="#lr" x="292"/></g></g>
<g transform="translate(0,738)"><g id="k14-5"><use href="#ll" x="292"/></g></g>
<g transform="translate(0,790)"><g id="k15-3"><use href="#lr" x="188"/></g><g id="k15-4"><use href="#lr" x="240"/></g><g id="k15-5"><use href="#lr" x="292"/></g><g id="k15-6"><use href="#lr" x="344"/></g><g id="k15-7"><use href="#lr" x="396"/></g><g id="k15-8"><use href="#lr" x="448"/></g></g>
<g transform="translate(0,842)"><g id="k16-2"><use href="#ll" x="136"/></g></g>
<g transform="translate(0,894)"><g id="k17-2"><use href="#lr" x="136"/></g></g>
<g transform="translate(0,946)"><g id="k18-3"><use href="#ll" x="188"/></g></g>
<g transform="translate(0,998)"><g id="k19-2"><use href="#lr" x="136"/></g><g id="k19-3"><use href="#lr" x="188"/></g><g id="k19-4"><use href="#lr" x="240"/></g><g id="k19-5"><use href="#lr" x="292"/></g><g id="k19-6"><use href="#lr" x="344"/></g><g id="k19-7"><use href="#lr" x="396"/></g><g id="k19-8"><use href="#lr" x="448"/></g></g>
<g transform="translate(0,1050)"><g id="k20-5"><use href="#ll" x="292"/></g></g>
<g transform="translate(0,1102)"><g id="k21-2"><use href="#lr" x="136"/></g><g id="k21-3"><use href="#lr" x="188"/></g><g id="k21-4"><use href="#lr" x="240"/></g><g id="k21-5"><use href="#lr" x="292"/></g><g id="k21-6"><use href="#lr" x="344"/></g><g id="k21-7"><use href="#lr" x="396"/></g><g id="k21-8"><use href="#lr" x="448"/></g></g>
<g transform="translate(0,1154)"><g id="k22-5"><use href="#ll" x="292"/></g><g id="k22-8"><use href="#ll" x="448"/></g></g>
<g transform="translate(0,1206)"><g id="k23-4"><use href="#lr" x="240"/></g><g id="k23-5"><use href="#lr" x="292"/></g><g id="k23-8"><use href="#lr" x="448"/></g></g>
<g transform="translate(0,1258)"><g id="k24-3"><use href="#ll" x="188"/></g><g id="k24-5"><use href="#ll" x="292"/></g><g id="k24-6"><use href="#ll" x="344"/></g><g id="k24-7"><use href="#ll" x="396"/></g></g>
<g transform="translate(0,1310)"><g id="k25-2"><use href="#lr" x="136"/></g><g id="k25-5"><use href="#lr" x="292"/></g></g>
<g transform="translate(0,1362)"><g id="k26-5"><use href="#ll" x="292"/></g></g>
<g transform="translate(0,1414)"><g id="k27-2"><use href="#lr" x="136"/></g><g id="k27-3"><use href="#lr" x="188"/></g><g id="k27-4"><use href="#lr" x="240"/></g><g id="k27-5"><use href="#lr" x="292"/></g><g id="k27-6"><use href="#lr" x="344"/></g><g id="k27-7"><use href="#lr" x="396"/></g><g id="k27-8"><use href="#lr" x="448"/></g></g>
<g transform="translate(0,1466)"><g id="k28-5"><use href="#ll" x="292"/></g><g id="k28-8"><use href="#ll" x="448"/></g></g>
<g transform="translate(0,1518)"><g id="k29-4"><use href="#lr" x="240"/></g><g id="k29-5"><use href="#lr" x="292"/></g><g id="k29-8"><use href="#lr" x="448"/></g></g>
<g transform="translate(0,1570)"><g id="k30-3"><use href="#ll" x="188"/></g><g id="k30-5"><use href="#ll" x="292"/></g><g id="k30-6"><use href="#ll" x="344"/></g><g id="k30-7"><use href="#ll" x="396"/></g></g>
<g transform="translate(0,1622)"><g id="k31-2"><use href="#lr" x="136"/></g><g id="k31-5"><use href="#lr" x="292"/></g></g>
<g transform="translate(0,1674)"><g id="k32-5"><use href="#ll" x="292"/></g><g id="k32-7"><use href="#ll" x="396"/></g><g id="k32-8"><use href="#ll" x="448"/></g></g>
<g transform="translate(0,1726)"><g id="k33-5"><use href="#lr" x="292"/></g><g id="k33-6"><use href="#lr" x="344"/></g></g>
<g transform="translate(0,1778)"><g id="k34-2"><use href="#ll" x="136"/></g><g id="k34-3"><use href="#ll" x="188"/></g><g id="k34-4"><use href="#ll" x="240"/></g><g id="k34-5"><use href="#ll" x="292"/></g></g>
<g transform="translate(0,1830)"><g id="k35-5"><use href="#lr" x="292"/></g><g id="k35-6"><use href="#lr" x="344"/></g></g>
<g transform="translate(0,1882)"><g id="k36-5"><use href="#ll" x="292"/></g><g id="k36-7"><use href="#ll" x="396"/></g><g id="k36-8"><use href="#ll" x="448"/></g></g>
<g transform="translate(0,1934)"><g id="k37-5"><use href="#lr" x="292"/></g></g>
<g transform="translate(0,1986)"><g id="k38-2"><use href="#ll" x="136"/></g><g id="k38-3"><use href="#ll" x="188"/></g><g id="k38-4"><use href="#ll" x="240"/></g><g id="k38-5"><use href="#ll" x="292"/></g><g id="k38-6"><use href="#ll" x="344"/></g><g id="k38-7"><use href="#ll" x="396"/></g><g id="k38-8"><use href="#ll" x="448"/></g></g>
<g transform="translate(0,2038)"><g id="k39-5"><use href="#lr" x="292"/></g><g id="k39-8"><use href="#lr" x="448"/></g></g>
<g transform="translate(0,2090)"><g id="k40-5"><use href="#ll" x="292"/></g><g id="k40-8"><use href="#ll" x="448"/></g></g>
<g transform="translate(0,2142)"><g id="k41-5"><use href="#lr" x="292"/></g><g id="k41-8"><use href="#lr" x="448"/></g></g>
<g transform="translate(0,2194)"><g id="k42-5"><use href="#ll" x="292"/></g></g>
<g transform="translate(0,2246)"><g id="k43-2"><use href="#lr" x="136"/></g><g id="k43-3"><use href="#lr" x="188"/></g><g id="k43-4"><use href="#lr" x="240"/></g><g id="k43-5"><use href="#lr" x="292"/></g><g id="k43-6"><use href="#lr" x="344"/></g></g>
<g transform="translate(0,2298)"><g id="k44-7"><use href="#ll" x="396"/></g></g>
<g transform="translate(0,2350)"><g id="k45-8"><use href="#lr" x="448"/></g></g>
<g transform="translate(0,2402)"><g id="k46-7"><use href="#ll" x="396"/></g></g>
<g transform="translate(0,2454)"><g id="k47-2"><use href="#lr" x="136"/></g><g id="k47-3"><use href="#lr" x="188"/></g><g id="k47-4"><use href="#lr" x="240"/></g><g id="k47-5"><use href="#lr" x="292"/></g><g id="k47-6"><use href="#lr" x="344"/></g></g>
<g transform="translate(0,2506)"><g id="k48-5"><use href="#ll" x="292"/></g></g>
<g transform="translate(0,2558)"><g id="k49-3"><use href="#lr" x="188"/></g><g id="k49-4"><use href="#lr" x="240"/></g><g id="k49-5"><use href="#lr" x="292"/></g><g id="k49-6"><use href="#lr" x="344"/></g><g id="k49-7"><use href="#lr" x="396"/></g></g>
<g transform="translate(0,2610)"><g id="k50-2"><use href="#ll" x="136"/></g><g id="k50-5"><use href="#ll" x="292"/></g><g id="k50-8"><use href="#ll" x="448"/></g></g>
<g transform="translate(0,2662)"><g id="k51-2"><use href="#lr" x="136"/></g><g id="k51-5"><use href="#lr" x="292"/></g><g id="k51-8"><use href="#lr" x="448"/></g></g>
<g transform="translate(0,2714)"><g id="k52-2"><use href="#ll" x="136"/></g><g id="k52-5"><use href="#ll" x="292"/></g><g id="k52-8"><use href="#ll" x="448"/></g></g>
<g transform="translate(0,2766)"><g id="k53-5"><use href="#lr" x="292"/></g></g>
<g transform="translate(0,2818)"><g id="k54-2"><use href="#ll" x="136"/></g><g id="k54-3"><use href="#ll" x="188"/></g><g id="k54-4"><use href="#ll" x="240"/></g><g id="k54-5"><use href="#ll" x="292"/></g><g id="k54-6"><use href="#ll" x="344"/></g><g id="k54-7"><use href="#ll" x="396"/></g><g id="k54-8"><use href="#ll" x="448"/></g></g>
<g transform="translate(0,2870)"><g id="k55-2"><use href="#lr" x="136"/></g><g id="k55-5"><use href="#lr" x="292"/></g><g id="k55-8"><use href="#lr" x="448"/></g></g>
<g transform="translate(0,2922)"><g id="k56-2"><use href="#ll" x="136"/></g><g id="k56-5"><use href="#ll" x="292"/></g><g id="k56-8"><use href="#ll" x="448"/></g></g>
<g transform="translate(0,2974)"><g id="k57-2"><use href="#lr" x="136"/></g><g id="k57-5"><use href="#lr" x="292"/></g><g id="k57-8"><use href="#lr" x="448"/></g></g>
<g transform="translate(0,3026)"><g id="k58-5"><use href="#ll" x="292"/></g></g>
<g transform="translate(0,3078)"><g id="k59-5"><use href="#lr" x="292"/></g></g>
<g transform="translate(0,3130)"><g id="k60-5"><use href="#ll" x="292"/></g></g>
<g transform="translate(0,3182)"><g id="k61-5"><use href="#lr" x="292"/></g></g>
</g>
<text class="wm" x="292" y="1652" textLength="153" lengthAdjust="spacingAndGlyphs">BRACELETBOOK.COM</text>
</svg>
